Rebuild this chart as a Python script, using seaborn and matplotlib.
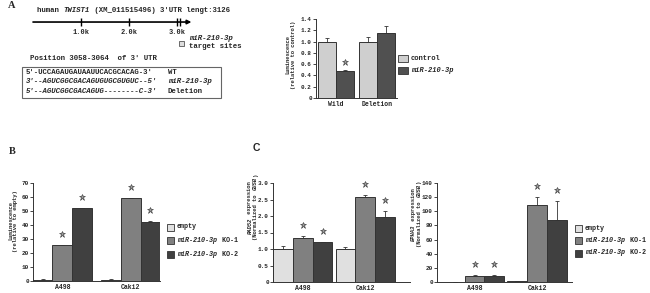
import numpy as np
import pandas as pd
import matplotlib
matplotlib.use('Agg')
import matplotlib.pyplot as plt
import seaborn as sns
from matplotlib.patches import Rectangle
from matplotlib.ticker import FuncFormatter

sns.set_style('ticks')
plt.rcParams['font.family'] = ['Liberation Mono', 'DejaVu Sans']
plt.rcParams['font.weight'] = 'bold'

# ---- data ----
# A: TWIST1 3'UTR schematic
utr_length = 3126
utr_ticks = [1000, 2000, 3000]
utr_tick_labels = ['1.0k', '2.0k', '3.0k']
target_site = 3058
seq_lines = ["5'-UCCAGAUGAUAAUUCACGCACAG-3'",
             "3'--AGUCGGCGACAGUGUGCGUGUC--5'",
             "5'--AGUCGGCGACAGUG--------C-3'"]
seq_labels = ['WT', 'miR-210-3p', 'Deletion']

# A: reporter assay
constructs = ['Wild', 'Deletion']
series_a = ['control', 'miR-210-3p']
lum_control = [1.00, 1.00]
lum_control_err = [0.07, 0.08]
lum_mir = [0.48, 1.15]
lum_mir_err = [0.01, 0.13]
star_a = [[False, False], [True, False]]

# B / C: knockout lines
cells = ['A498', 'Caki2']
series_ko = ['empty', 'miR-210-3p KO-1', 'miR-210-3p KO-2']
lum_empty = [1.0, 1.0]
lum_empty_err = [0.2, 0.2]
lum_ko1 = [25.5, 59.0]
lum_ko1_err = [0.5, 0.6]
lum_ko2 = [52.0, 42.5]
lum_ko2_err = [0.4, 0.6]

rad52_empty = [1.00, 1.00]
rad52_empty_err = [0.08, 0.05]
rad52_ko1 = [1.32, 2.57]
rad52_ko1_err = [0.07, 0.06]
rad52_ko2 = [1.20, 1.97]
rad52_ko2_err = [0.02, 0.17]

epha3_empty = [0.5, 1.0]
epha3_empty_err = [0.2, 0.6]
epha3_ko1 = [9.0, 109.0]
epha3_ko1_err = [1.0, 11.0]
epha3_ko2 = [9.0, 88.0]
epha3_ko2_err = [1.0, 27.0]

star_ko = [[False, False], [True, True], [True, True]]

W, H = 650, 293
fig = plt.figure(figsize=(6.5, 2.93), dpi=100)
FS = 5.3     # schematic text
TFS = 4.3    # tick labels
YFS = 4.0    # axis titles
EDGE = '#333333'


def px_axes(left, top, right, bottom):
    return fig.add_axes([left / W, 1 - bottom / H, (right - left) / W, (bottom - top) / H])


def bar_panel(ax, cats, names, vals, errs, stars, colors, width, xlim, ylim, yticks):
    rows = []
    for name, v in zip(names, vals):
        for c, y in zip(cats, v):
            rows.append({'cat': c, 'group': name, 'value': y})
    df = pd.DataFrame(rows)
    sns.barplot(data=df, x='cat', y='value', hue='group', order=cats, hue_order=names,
                palette=dict(zip(names, colors)), width=width, errorbar=None,
                edgecolor=EDGE, linewidth=0.7, saturation=1, legend=False, ax=ax)
    ymax = ylim[1]
    for cont, e_list, s_list in zip(ax.containers, errs, stars):
        for bar, e, s in zip(cont, e_list, s_list):
            x = bar.get_x() + bar.get_width() / 2
            h = bar.get_height()
            ax.errorbar(x, h, yerr=[[0], [e]], fmt='none', ecolor=EDGE,
                        elinewidth=0.6, capsize=1.5, capthick=0.6)
            if s:
                ax.plot(x, h + e + 0.11 * ymax, marker='*', ms=5, mfc='#9a9a9a',
                        mec=EDGE, mew=0.4, ls='none', clip_on=False)
    ax.set_xlim(*xlim)
    ax.set_ylim(*ylim)
    ax.set_yticks(yticks)
    ax.yaxis.set_major_formatter(FuncFormatter(lambda v, p: '0' if v == 0 else
                                               (f'{v:.1f}' if ymax < 10 else f'{v:.0f}')))
    ax.set_xlabel('')
    ax.set_ylabel('')
    sns.despine(ax=ax)
    for sp in ['left', 'bottom']:
        ax.spines[sp].set_linewidth(0.7)
        ax.spines[sp].set_color(EDGE)
    ax.tick_params(axis='y', labelsize=TFS, length=2, width=0.6, pad=1)
    ax.tick_params(axis='x', labelsize=TFS + 0.4, length=0, pad=2)


# ---- overlay for free text ----
ax_t = fig.add_axes([0, 0, 1, 1])
ax_t.set_xlim(0, W)
ax_t.set_ylim(H, 0)
ax_t.axis('off')


def char_w(fs):
    return fs / 72 * 100 * 0.6


def seg_text(x, y, parts, fs=FS):
    for s, style in parts:
        ax_t.text(x, y, s, fontsize=fs, style=style, va='center', ha='left')
        x += len(s) * char_w(fs)


def vseg_text(x, yc, parts, fs=YFS):
    # vertical text reading upward, centred on yc
    total = sum(len(s) for s, _ in parts) * char_w(fs)
    y = yc + total / 2
    for s, style in parts:
        ax_t.text(x, y, s, fontsize=fs, style=style, rotation=90,
                  rotation_mode='anchor', ha='left', va='center')
        y -= len(s) * char_w(fs)


def ylab(x1, x2, yc, line1, line2):
    vseg_text(x1, yc, line1)
    vseg_text(x2, yc, line2)


def add_legend(labels, colors, x, y0, dy, pw=7, ph=7, fs=4.9):
    for i, (parts, c) in enumerate(zip(labels, colors)):
        yy = y0 + i * dy
        ax_t.add_patch(Rectangle((x, yy - ph / 2), pw, ph, facecolor=c, edgecolor=EDGE, lw=0.6))
        seg_text(x + pw + 3, yy, parts, fs=fs)


ax_t.text(8, 6, 'A', fontsize=7.5, family='Liberation Serif', weight='bold', va='center')
ax_t.text(9, 152, 'B', fontsize=7.5, family='Liberation Serif', weight='bold', va='center')
ax_t.text(253, 148, 'C', fontsize=7.5, family='Liberation Sans', weight='bold', va='center')

seg_text(37, 10, [('human ', 'normal'), ('TWIST1', 'italic'),
                  (" (XM_011515496) 3'UTR lengt:3126", 'normal')])

# UTR schematic
ax_s = px_axes(33, 14, 33 + 3300 * 0.048, 36)
ax_s.set_xlim(0, 3300)
ax_s.set_ylim(-1, 1)
ax_s.axis('off')
ax_s.annotate('', xy=(3300, 0.27), xytext=(0, 0.27),
              arrowprops=dict(arrowstyle='-|>', lw=1.2, color='black', mutation_scale=6,
                              shrinkA=0, shrinkB=0))
ax_s.vlines(utr_ticks + [target_site], -0.1, 0.65, color='black', lw=1.0)
for t, lab in zip(utr_ticks, utr_tick_labels):
    ax_s.text(t, -0.65, lab, fontsize=FS - 0.3, ha='center', va='center')

ax_t.add_patch(Rectangle((179, 41), 5, 5, facecolor='#dddddd', edgecolor='#555555', lw=0.6))
ax_t.text(189, 39, 'miR-210-3p', fontsize=FS, style='italic', va='center')
ax_t.text(189, 47, 'target sites', fontsize=FS, va='center')

ax_t.text(30, 59, "Position 3058-3064  of 3' UTR", fontsize=FS, va='center')
ax_t.add_patch(Rectangle((22, 67), 199, 31, facecolor='none', edgecolor='#666666', lw=0.8))
for i, (s, lab) in enumerate(zip(seq_lines, seq_labels)):
    yy = 72.5 + i * 9.3
    ax_t.text(26, yy, s, fontsize=FS, va='center', style='normal' if i == 0 else 'italic')
    ax_t.text(168, yy, lab, fontsize=FS, va='center', style='italic' if i == 1 else 'normal')

# ---- A: reporter bars ----
colors_a = ['#cfcfcf', '#505050']
ax_a = px_axes(316, 19, 397, 98)
bar_panel(ax_a, constructs, series_a, [lum_control, lum_mir], [lum_control_err, lum_mir_err],
          star_a, colors_a, 0.88, (-0.5, 1.5), (0, 1.4), np.arange(0, 1.41, 0.2))
ylab(288, 293.5, 54, [('Luminescence', 'normal')], [('(relative to control)', 'normal')])
add_legend([[('control', 'normal')], [('miR-210-3p', 'italic')]], colors_a,
           398, 58.5, 12, pw=10, ph=7, fs=5.0)

# ---- B: KO luminescence ----
ko_colors = ['#e0e0e0', '#808080', '#404040']
ko_labels = [[('empty', 'normal')],
             [('miR-210-3p', 'italic'), (' KO-1', 'normal')],
             [('miR-210-3p', 'italic'), (' KO-2', 'normal')]]
ax_b = px_axes(33, 183, 160, 281)
bar_panel(ax_b, cells, series_ko, [lum_empty, lum_ko1, lum_ko2],
          [lum_empty_err, lum_ko1_err, lum_ko2_err], star_ko, ko_colors, 0.87,
          (-0.43, 1.43), (0, 70), np.arange(0, 71, 10))
ylab(10.5, 16, 220, [('Luminescence', 'normal')], [('(relative to empty)', 'normal')])
add_legend(ko_labels, ko_colors, 167, 227, 13.5)

# ---- C: RAD52 ----
ax_c1 = px_axes(273, 183, 410, 282)
bar_panel(ax_c1, cells, series_ko, [rad52_empty, rad52_ko1, rad52_ko2],
          [rad52_empty_err, rad52_ko1_err, rad52_ko2_err], star_ko, ko_colors, 0.95,
          (-0.48, 1.72), (0, 3.0), np.arange(0, 3.01, 0.5))
ylab(250, 255.5, 207, [('RAD52', 'italic'), (' expression', 'normal')],
     [('(Normalized to ', 'normal'), ('GUSB', 'italic'), (')', 'normal')])

# ---- C: EPHA3 ----
ax_c2 = px_axes(437, 183, 572, 282)
bar_panel(ax_c2, cells, series_ko, [epha3_empty, epha3_ko1, epha3_ko2],
          [epha3_empty_err, epha3_ko1_err, epha3_ko2_err], star_ko, ko_colors, 0.95,
          (-0.6, 1.56), (0, 140), np.arange(0, 141, 20))
ylab(413.5, 419, 214, [('EPHA3', 'italic'), (' expression', 'normal')],
     [('(Normalized to ', 'normal'), ('GUSB', 'italic'), (')', 'normal')])
add_legend(ko_labels, ko_colors, 575, 228, 12.5)

fig.savefig('out.png', dpi=100, facecolor='white')
plt.close(fig)
